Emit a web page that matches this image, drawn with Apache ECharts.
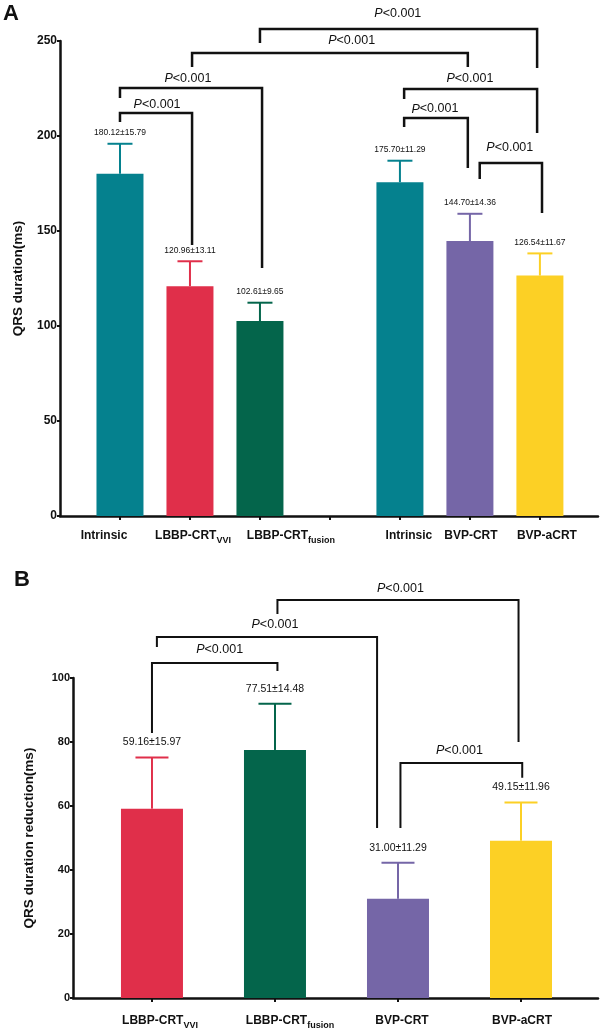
<!DOCTYPE html>
<html><head><meta charset="utf-8">
<script src="https://cdn.jsdelivr.net/npm/echarts@6/dist/echarts.min.js"></script>
<style>html,body{margin:0;padding:0;background:#fff}#c{width:600px;height:1033px}</style>
</head><body><div id="c"></div>
<script>
// ---- Panel A data ----
const catsA = ['Intrinsic', 'LBBP-CRT|VVI', 'LBBP-CRT|fusion', '', 'Intrinsic', 'BVP-CRT', 'BVP-aCRT'];
const meanA = [180.12, 120.96, 102.61, null, 175.70, 144.70, 126.54];
const sdA   = [15.79, 13.11, 9.65, null, 11.29, 14.36, 11.67];
const ticksA = [0, 50, 100, 150, 200, 250];
// brackets: [xLeft, xRight, yTop, yLeftEnd, yRightEnd, textX, textY] (data units)
const bracketsA = [
  [0.00, 1.03, 212.1, 207.4, 142.6, 0.53, 216.8],
  [0.00, 2.03, 225.3, 220.0, 130.5, 0.97, 230.0],
  [1.03, 4.97, 243.7, 236.3, 236.3, 3.31, 250.0],
  [2.00, 5.96, 256.3, 248.9, 235.8, 3.97, 264.7],
  [4.06, 5.96, 224.7, 219.5, 201.6, 5.00, 230.0],
  [4.06, 4.97, 209.5, 204.7, 183.2, 4.50, 214.2],
  [5.14, 6.03, 185.8, 177.4, 159.5, 5.57, 193.7]
];
const pText = 'P<0.001';

// ---- Panel B data ----
const catsB = ['LBBP-CRT|VVI', 'LBBP-CRT|fusion', 'BVP-CRT', 'BVP-aCRT'];
const meanB = [59.16, 77.51, 31.00, 49.15];
const sdB   = [15.97, 14.48, 11.29, 11.96];
const ticksB = [0, 20, 40, 60, 80, 100];
const bracketsB = [
  [0.00, 1.02, 104.7, 82.8, 102.2, 0.55, 108.8],
  [0.04, 1.83, 112.8, 109.7, 53.1, 1.00, 116.6],
  [1.02, 2.98, 124.4, 120.0, 80.0, 2.02, 128.1],
  [2.02, 3.01, 73.4, 53.1, 68.8, 2.50, 77.2]
];

// ---- styles / layout ----
const palA = ['#05818e', '#e02f4a', '#04654b', '#ffffff', '#05818e', '#7566a7', '#fcd025'];
const palB = ['#e02f4a', '#04654b', '#7566a7', '#fcd025'];
const labelShiftA = [-16, 3, 31, 0, 9, 1, 7];   // px shift of category labels from tick
const labelShiftB = [8, 15, 4, 1];
const FONT = '"Liberation Sans", Arial, Helvetica, sans-serif';

const richLab = {
  m: { fontSize: 12, fontWeight: 'bold', fill: '#111', fontFamily: FONT, lineHeight: 18 },
  s: { fontSize: 9, fontWeight: 'bold', fill: '#111', fontFamily: FONT, lineHeight: 18, verticalAlign: 'bottom', padding: [7, 0, 0, 0] }
};
function fmtCat(name) {
  const parts = name.split('|');
  return parts.length > 1 ? '{m|' + parts[0] + '}{s|' + parts[1] + '}' : '{m|' + parts[0] + '}';
}

function barData(means) {
  const out = [];
  means.forEach((m, i) => { if (m != null) out.push([i, m]); });
  return out;
}
function errData(means, sds) {
  const out = [];
  means.forEach((m, i) => { if (m != null) out.push([i, m, m + sds[i], sds[i]]); });
  return out;
}
function errSeries(idx, means, sds, pal, capW, fs, gap) {
  return {
    type: 'custom', xAxisIndex: idx, yAxisIndex: idx, clip: false, z: 3,
    data: errData(means, sds),
    encode: { x: 0, y: [1, 2] },
    renderItem: function (params, api) {
      const x = api.value(0), m = api.value(1), t = api.value(2), sd = api.value(3);
      const p0 = api.coord([x, m]), p1 = api.coord([x, t]);
      const col = pal[Math.round(x)];
      return { type: 'group', children: [
        { type: 'line', shape: { x1: p0[0], y1: p0[1], x2: p1[0], y2: p1[1] }, style: { stroke: col, lineWidth: 2 } },
        { type: 'line', shape: { x1: p1[0] - capW / 2, y1: p1[1], x2: p1[0] + capW / 2, y2: p1[1] }, style: { stroke: col, lineWidth: 2 } },
        { type: 'text', x: p1[0], y: p1[1] - gap, style: { text: m.toFixed(2) + '±' + sd.toFixed(2), fill: '#111', fontSize: fs, fontFamily: FONT, align: 'center', verticalAlign: 'middle' } }
      ] };
    }
  };
}
function bracketSeries(idx, data, lw) {
  return {
    type: 'custom', xAxisIndex: idx, yAxisIndex: idx, clip: false, z: 4, silent: true,
    data: data,
    encode: { x: [0, 1, 5], y: [2, 3, 4, 6] },
    renderItem: function (params, api) {
      const xl = api.value(0), xr = api.value(1), yt = api.value(2), yl = api.value(3), yr = api.value(4);
      const tx = api.value(5), ty = api.value(6);
      const a = api.coord([xl, yl]), b = api.coord([xl, yt]), c = api.coord([xr, yt]), d = api.coord([xr, yr]);
      const tp = api.coord([tx, ty]);
      return { type: 'group', children: [
        { type: 'polyline', shape: { points: [a, b, c, d] }, style: { stroke: '#111', lineWidth: lw, fill: null } },
        { type: 'text', x: tp[0], y: tp[1], style: {
            text: '{i|' + pText.slice(0, 1) + '}{n|' + pText.slice(1) + '}', align: 'center', verticalAlign: 'middle',
            rich: { i: { fontSize: 12.5, fontStyle: 'italic', fontFamily: FONT, fill: '#111' }, n: { fontSize: 12.5, fontFamily: FONT, fill: '#111' } } } }
      ] };
    }
  };
}
// category labels drawn at the axis tick positions (through the axis scale)
function catLabelSeries(idx, cats, shifts, dy) {
  const data = [];
  cats.forEach((c, i) => { if (c) data.push([i, 0]); });
  return {
    type: 'custom', xAxisIndex: idx, yAxisIndex: idx, clip: false, z: 5, silent: true,
    data: data, encode: { x: 0, y: 1 },
    renderItem: function (params, api) {
      const i = api.value(0);
      const p = api.coord([i, 0]);
      return { type: 'text', x: p[0] + shifts[i], y: p[1] + dy,
        style: { text: fmtCat(cats[i]), rich: richLab, align: 'center', verticalAlign: 'middle' } };
    }
  };
}
function valAxisX(idx, min, max, cats) {
  const vals = cats.map((c, i) => i);
  return {
    type: 'value', gridIndex: idx, min: min, max: max,
    splitLine: { show: false },
    axisLine: { show: true, onZero: false, lineStyle: { color: '#111', width: 2.5 } },
    axisTick: { show: true, customValues: vals, length: 4, lineStyle: { color: '#111', width: 2 } },
    axisLabel: { show: false }
  };
}
function valAxisY(idx, ticks, name, gap, fs) {
  return {
    type: 'value', gridIndex: idx, min: ticks[0], max: ticks[ticks.length - 1], interval: ticks[1] - ticks[0],
    splitLine: { show: false },
    axisLine: { show: true, onZero: false, lineStyle: { color: '#111', width: 2.5 } },
    axisTick: { show: true, length: 3, lineStyle: { color: '#111', width: 2 } },
    axisLabel: { fontSize: fs, fontWeight: 'bold', color: '#111', fontFamily: FONT, margin: 3 },
    name: name, nameLocation: 'middle', nameGap: gap,
    nameTextStyle: { fontSize: 13.5, fontWeight: 'bold', color: '#111', fontFamily: FONT }
  };
}

const chart = echarts.init(document.getElementById('c'), null, { renderer: 'canvas' });
chart.setOption({
  animation: false,
  backgroundColor: '#fff',
  graphic: [
    { type: 'text', left: 3, top: 3, style: { text: 'A', fontSize: 22, fontWeight: 'bold', fontFamily: FONT, fill: '#111' } },
    { type: 'text', left: 14, top: 569, style: { text: 'B', fontSize: 22, fontWeight: 'bold', fontFamily: FONT, fill: '#111' } }
  ],
  grid: [
    { left: 60, top: 41, right: 2, height: 475 },
    { left: 73, top: 678, right: 2, height: 320 }
  ],
  xAxis: [
    valAxisX(0, -0.857, 6.83, catsA),
    valAxisX(1, -0.642, 3.626, catsB)
  ],
  yAxis: [
    valAxisY(0, ticksA, 'QRS duration(ms)', 35, 12),
    valAxisY(1, ticksB, 'QRS duration reduction(ms)', 37, 11)
  ],
  series: [
    { type: 'bar', xAxisIndex: 0, yAxisIndex: 0, barWidth: 47, data: barData(meanA), z: 2,
      itemStyle: { color: p => palA[p.data[0]] } },
    { type: 'bar', xAxisIndex: 1, yAxisIndex: 1, barWidth: 62, data: barData(meanB), z: 2,
      itemStyle: { color: p => palB[p.data[0]] } },
    errSeries(0, meanA, sdA, palA, 25, 8.5, 11),
    errSeries(1, meanB, sdB, palB, 33, 10.5, 15),
    bracketSeries(0, bracketsA, 2.5),
    bracketSeries(1, bracketsB, 2),
    catLabelSeries(0, catsA, labelShiftA, 20),
    catLabelSeries(1, catsB, labelShiftB, 23)
  ]
});
</script></body></html>
